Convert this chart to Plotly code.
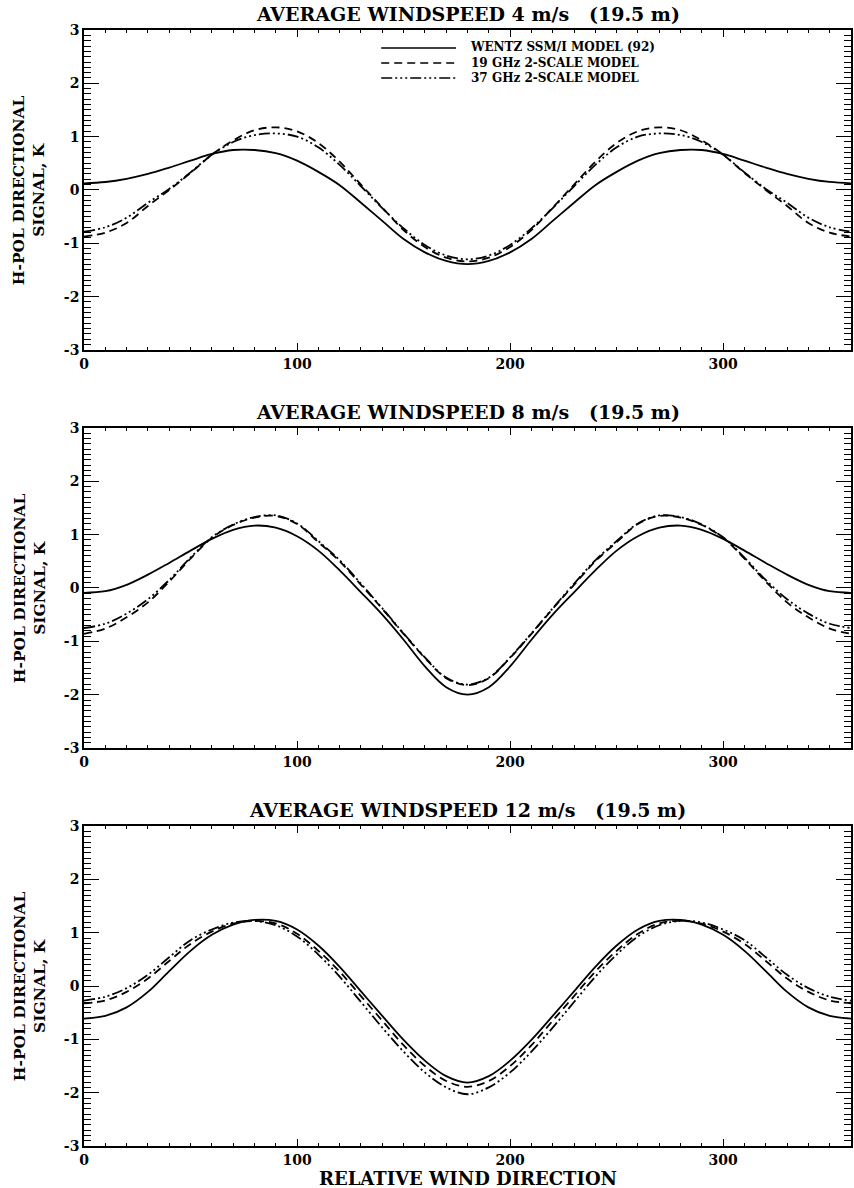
import plotly.graph_objects as go
from plotly.subplots import make_subplots

# Relative wind direction (deg)
direction = list(range(0, 361, 10))

# Panel 1: 4 m/s
wentz_4 = [0.125, 0.15, 0.21, 0.30, 0.42, 0.55, 0.675, 0.75, 0.75, 0.69, 0.55, 0.34, 0.09,
           -0.24, -0.58, -0.92, -1.17, -1.33, -1.39,
           -1.33, -1.17, -0.92, -0.58, -0.24, 0.09, 0.34, 0.55, 0.69, 0.75, 0.75, 0.675, 0.55,
           0.42, 0.30, 0.21, 0.15, 0.125]
ghz19_4 = [-0.875, -0.80, -0.62, -0.30, 0.00, 0.32, 0.66, 0.93, 1.12, 1.175, 1.10, 0.88, 0.53,
           0.10, -0.33, -0.75, -1.07, -1.27, -1.34,
           -1.27, -1.07, -0.75, -0.33, 0.10, 0.53, 0.88, 1.10, 1.175, 1.12, 0.93, 0.66, 0.32,
           0.00, -0.30, -0.62, -0.80, -0.875]
ghz37_4 = [-0.78, -0.70, -0.52, -0.24, 0.02, 0.33, 0.66, 0.90, 1.03, 1.06, 1.00, 0.80, 0.47,
           0.07, -0.34, -0.72, -1.03, -1.23, -1.30,
           -1.23, -1.03, -0.72, -0.34, 0.07, 0.47, 0.80, 1.00, 1.06, 1.03, 0.90, 0.66, 0.33,
           0.02, -0.24, -0.52, -0.70, -0.78]

# Panel 2: 8 m/s
wentz_8 = [-0.09, -0.06, 0.06, 0.25, 0.47, 0.70, 0.92, 1.09, 1.17, 1.13, 0.97, 0.70, 0.33,
           -0.08, -0.50, -0.97, -1.47, -1.86, -2.0,
           -1.86, -1.47, -0.97, -0.50, -0.08, 0.33, 0.70, 0.97, 1.13, 1.17, 1.09, 0.92, 0.70,
           0.47, 0.25, 0.06, -0.06, -0.09]
ghz19_8 = [-0.86, -0.76, -0.55, -0.27, 0.12, 0.55, 0.94, 1.18, 1.32, 1.35, 1.20, 0.86, 0.50,
           0.06, -0.39, -0.86, -1.31, -1.69, -1.82,
           -1.69, -1.31, -0.86, -0.39, 0.06, 0.50, 0.86, 1.20, 1.35, 1.32, 1.18, 0.94, 0.55,
           0.12, -0.27, -0.55, -0.76, -0.86]
ghz37_8 = [-0.75, -0.67, -0.48, -0.21, 0.15, 0.57, 0.95, 1.19, 1.33, 1.36, 1.21, 0.88, 0.52,
           0.08, -0.38, -0.85, -1.30, -1.68, -1.81,
           -1.68, -1.30, -0.85, -0.38, 0.08, 0.52, 0.88, 1.21, 1.36, 1.33, 1.19, 0.95, 0.57,
           0.15, -0.21, -0.48, -0.67, -0.75]

# Panel 3: 12 m/s
wentz_12 = [-0.61, -0.56, -0.40, -0.11, 0.28, 0.66, 0.96, 1.15, 1.24, 1.22, 1.06, 0.76, 0.36,
            -0.10, -0.56, -1.01, -1.40, -1.69, -1.81,
            -1.69, -1.40, -1.01, -0.56, -0.10, 0.36, 0.76, 1.06, 1.22, 1.24, 1.15, 0.96, 0.66,
            0.28, -0.11, -0.40, -0.56, -0.61]
ghz19_12 = [-0.325, -0.27, -0.11, 0.14, 0.47, 0.79, 1.02, 1.17, 1.22, 1.175, 0.98, 0.66, 0.27,
            -0.19, -0.65, -1.11, -1.50, -1.78, -1.89,
            -1.78, -1.50, -1.11, -0.65, -0.19, 0.27, 0.66, 0.98, 1.175, 1.22, 1.17, 1.02, 0.79,
            0.47, 0.14, -0.11, -0.27, -0.325]
ghz37_12 = [-0.275, -0.20, -0.04, 0.21, 0.54, 0.86, 1.06, 1.19, 1.22, 1.14, 0.93, 0.59, 0.175,
            -0.30, -0.78, -1.23, -1.62, -1.90, -2.03,
            -1.90, -1.62, -1.23, -0.78, -0.30, 0.175, 0.59, 0.93, 1.14, 1.22, 1.19, 1.06, 0.86,
            0.54, 0.21, -0.04, -0.20, -0.275]

titles = ["AVERAGE WINDSPEED 4 m/s   (19.5 m)",
          "AVERAGE WINDSPEED 8 m/s   (19.5 m)",
          "AVERAGE WINDSPEED 12 m/s   (19.5 m)"]
series_names = ["WENTZ SSM/I MODEL (92)", "19 GHz 2-SCALE MODEL", "37 GHz 2-SCALE MODEL"]
x_ticks = [0, 100, 200, 300]
y_ticks = [-3, -2, -1, 0, 1, 2, 3]
y_label = "H-POL DIRECTIONAL<br>SIGNAL, K"
x_label = "RELATIVE WIND DIRECTION"

panels = [(wentz_4, ghz19_4, ghz37_4),
          (wentz_8, ghz19_8, ghz37_8),
          (wentz_12, ghz19_12, ghz37_12)]

FONT = "DejaVu Serif"
dash_styles = ["solid", "8px,5px", "11px,3px,2px,3px,2px,3px,2px,3px"]

fig = make_subplots(rows=3, cols=1, vertical_spacing=0.0699)

for i, curves in enumerate(panels):
    for j, vals in enumerate(curves):
        fig.add_trace(go.Scatter(
            x=direction, y=vals, mode="lines", name=series_names[j],
            line=dict(color="black", width=1.8, dash=dash_styles[j], shape="spline", smoothing=1.0),
            showlegend=False), row=i + 1, col=1)

domains = [[0.7133, 1.0], [0.3566, 0.6434], [0.0, 0.2867]]
tick_font = dict(family=FONT, size=14, color="black")
for i in range(3):
    xa = "xaxis" if i == 0 else f"xaxis{i+1}"
    ya = "yaxis" if i == 0 else f"yaxis{i+1}"
    fig.layout[ya].domain = domains[i]
    fig.update_layout({
        xa: dict(range=[0, 360], tickvals=x_ticks, ticktext=[f"<b>{t}</b>" for t in x_ticks],
                 ticks="inside", ticklen=7, tickwidth=1.2,
                 tickcolor="black", showline=True, linecolor="black", linewidth=1.6,
                 mirror="allticks", showgrid=False, zeroline=False, tickfont=tick_font,
                 minor=dict(dtick=10, ticks="inside", ticklen=3.5, tickcolor="black", tickwidth=1,
                            showgrid=False)),
        ya: dict(range=[-3, 3], tickvals=y_ticks, ticktext=[f"<b>{t}</b>" for t in y_ticks],
                 ticks="inside", ticklen=15, tickwidth=1.2,
                 tickcolor="black", showline=True, linecolor="black", linewidth=1.6,
                 mirror="allticks", showgrid=False, zeroline=False, tickfont=tick_font,
                 minor=dict(dtick=0.1, ticks="inside", ticklen=7, tickcolor="black", tickwidth=1,
                            showgrid=False)),
    })
    yref = "y domain" if i == 0 else f"y{i+1} domain"
    xref = "x domain" if i == 0 else f"x{i+1} domain"
    fig.add_annotation(text=f"<b>{titles[i]}</b>", xref=xref, yref=yref, x=0.5, y=1,
                       yshift=3, xanchor="center", yanchor="bottom", showarrow=False,
                       font=dict(family=FONT, size=19, color="black"))
    fig.add_annotation(text=f"<b>{y_label}</b>", xref="paper", yref=yref, x=-0.0715, y=0.5,
                       xanchor="center", yanchor="middle", textangle=-90, showarrow=False,
                       font=dict(family=FONT, size=15.5, color="black"))

fig.add_annotation(text=f"<b>{x_label}</b>", xref="x3 domain", yref="y3 domain", x=0.5, y=0,
                   yshift=-20, xanchor="center", yanchor="top", showarrow=False,
                   font=dict(family=FONT, size=18, color="black"))

# Legend (drawn in panel 1)
leg_y = [0.9438, 0.8969, 0.8500]
for j in range(3):
    fig.add_shape(type="line", xref="x domain", yref="y domain", x0=0.3875, x1=0.485,
                  y0=leg_y[j], y1=leg_y[j],
                  line=dict(color="black", width=1.6, dash=dash_styles[j]))
fig.add_annotation(text="<br>".join(f"<b>{n}</b>" for n in series_names),
                   xref="x domain", yref="y domain", x=0.5, y=leg_y[1], xanchor="left",
                   yanchor="middle", align="left", showarrow=False,
                   font=dict(family=FONT, size=12, color="black"))

fig.update_layout(width=854, height=1188, margin=dict(l=84, r=1, t=30, b=42),
                  plot_bgcolor="white", paper_bgcolor="white", showlegend=False)

fig.write_html("out.html")
